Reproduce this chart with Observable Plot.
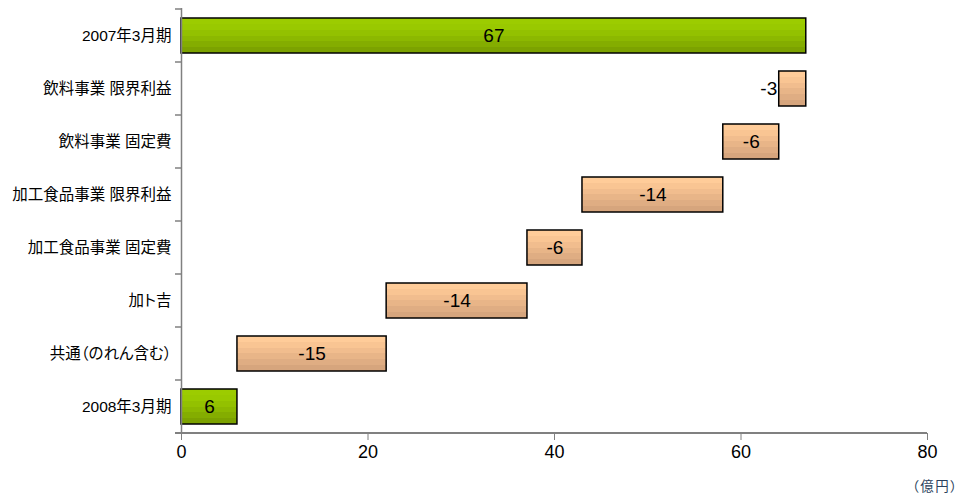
<!DOCTYPE html>
<html><head><meta charset="utf-8">
<script src="https://cdn.jsdelivr.net/npm/d3@7"></script>
<script src="https://cdn.jsdelivr.net/npm/@observablehq/plot@0.6"></script>
<style>
body{margin:0;background:#fff;}
#chart svg{display:block;}
.palt text{font-feature-settings:"palt" 1;}
.unit text{font-feature-settings:"palt" 1;letter-spacing:1.5px;}
</style>
</head><body><div id="chart"></div>
<script>
// categories top → bottom
const categories = ["2007年3月期","飲料事業 限界利益","飲料事業 固定費","加工食品事業 限界利益","加工食品事業 固定費","加ト吉","共通（のれん含む）","2008年3月期"];
// bar kind: total or step
const kinds = ["total","step","step","step","step","step","step","total"];
// bar lengths (totals positive, steps negative)
const values = [67, -2.9, -6.0, -15.1, -5.9, -15.1, -16.0, 6];
// value labels printed on bars
const labels = ["67","-3","-6","-14","-6","-14","-15","6"];
const xTicks = [0, 20, 40, 60, 80];
const unitLabel = "（億円）";

// build waterfall rows
let running = 0;
const rows = categories.map((c, i) => {
  let x1, x2;
  if (kinds[i] === "total") { x1 = 0; x2 = values[i]; running = values[i]; }
  else { x2 = running; x1 = running + values[i]; running = x1; }
  return {cat: c, kind: kinds[i], x1, x2, label: labels[i]};
});

const FONT = "'Liberation Sans', Arial, 'Noto Sans CJK JP', sans-serif";

function gradDefs() {
  const defs = d3.create("svg:defs");
  const make = (id, stops) => {
    const g = defs.append("linearGradient").attr("id", id)
      .attr("x1", 0).attr("y1", 0).attr("x2", 0).attr("y2", 1);
    const n = stops.length;
    stops.forEach((col, k) => {
      g.append("stop").attr("offset", k / n).attr("stop-color", col);
      g.append("stop").attr("offset", (k + 1) / n).attr("stop-color", col);
    });
  };
  make("gGreen", ["#9ccc00", "#99c900", "#93c100", "#8cb800", "#84ad00", "#7ca200"]);
  make("gOrange", ["#ffcc99", "#f9c593", "#f1bd8e", "#e8b588", "#dfad83", "#d6a57d"]);
  return defs.node();
}

const plot = Plot.plot({
  width: 960,
  height: 498,
  marginTop: 8,
  marginBottom: 65,
  marginLeft: 181,
  marginRight: 33,
  style: {fontFamily: FONT, background: "#fff", color: "#000"},
  x: {domain: [0, 80]},
  y: {domain: categories, paddingInner: 0.34, paddingOuter: 0.17},
  marks: [
    gradDefs,
    Plot.barX(rows.filter(d => d.kind === "total"), {x1: "x1", x2: "x2", y: "cat", fill: "url(#gGreen)", stroke: "#000", strokeWidth: 1.5}),
    Plot.barX(rows.filter(d => d.kind === "step"), {x1: "x1", x2: "x2", y: "cat", fill: "url(#gOrange)", stroke: "#000", strokeWidth: 1.5}),
    Plot.text(rows.filter(d => d.label !== "-3"), {x: d => (d.x1 + d.x2) / 2, y: "cat", text: "label", fontSize: 19, fill: "#000"}),
    Plot.text(rows.filter(d => d.label === "-3"), {x: "x1", y: "cat", text: "label", fontSize: 19, fill: "#000", textAnchor: "end", dx: -2}),
    Plot.ruleX([0], {stroke: "#808080", strokeWidth: 1.5}),
    Plot.axisY({tickSize: 0, tickPadding: 10, fontSize: 15.5, fill: "#000", label: null, className: "palt"}),
    Plot.axisX({ticks: xTicks, tickSize: 7, tickPadding: 5, fontSize: 18, stroke: "#808080", fill: "#000", label: null, tickFormat: d => String(d)}),
    Plot.text([unitLabel], {frameAnchor: "bottom-right", dx: 31, dy: 57, fontSize: 13.5, fill: "#2b3f5c", textAnchor: "end", className: "unit"})
  ]
});

document.getElementById("chart").appendChild(plot);

// category boundary ticks and x axis line, via the plot's own scales
const ys = plot.scale("y"), xs = plot.scale("x");
const gap = (ys.step - ys.bandwidth) / 2;
const svg = d3.select(plot);
const x0 = xs.apply(0);
const bounds = categories.map(c => ys.apply(c) - gap);
const yBottom = ys.apply(categories[categories.length - 1]) + ys.bandwidth + gap;
const g = svg.append("g").attr("stroke", "#808080").attr("stroke-width", 1.5);
bounds.forEach(b => g.append("line").attr("x1", x0 - 6).attr("x2", x0).attr("y1", b).attr("y2", b));
g.append("line").attr("x1", x0 - 6).attr("x2", xs.apply(80)).attr("y1", yBottom).attr("y2", yBottom).attr("stroke-width", 2);
</script>
</body></html>
